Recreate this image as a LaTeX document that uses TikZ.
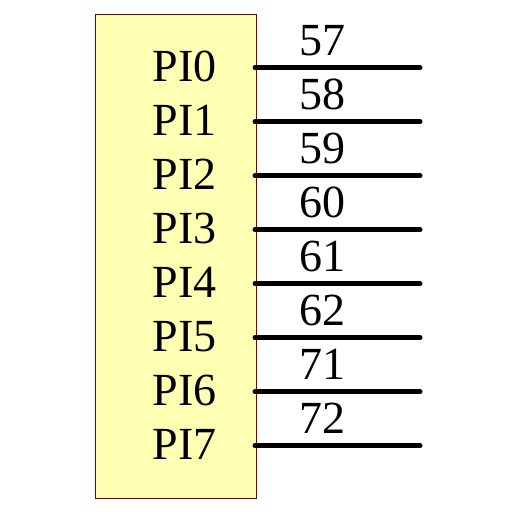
\documentclass[tikz,border=0pt]{standalone}
\usepackage{fontspec}
\setmainfont{Liberation Serif}
\definecolor{boxfill}{HTML}{FFFFB4}
\definecolor{boxedge}{HTML}{800000}
\tikzset{
  chip/.style={draw=boxedge, fill=boxfill, line width=0.8pt},
  pinlabel/.style={anchor=base west, inner sep=0pt, font=\fontsize{46}{46}\selectfont},
  pinnum/.style={anchor=base west, inner sep=0pt, font=\fontsize{46}{46}\selectfont},
  wire/.style={line width=5pt, line cap=round}
}
\begin{document}
\begin{tikzpicture}[x=1pt,y=-1pt]
\useasboundingbox (0,0) rectangle (512,512);
\node[chip, minimum width=161pt, minimum height=484pt, anchor=north west, inner sep=0pt] (box) at (94.5,13.5) {};
\foreach \i/\n in {0/57,1/58,2/59,3/60,4/61,5/62,6/71,7/72}{
  \pgfmathsetmacro{\yy}{67.7+54*\i}
  \coordinate (s\i) at (255,\yy);
  \coordinate (e\i) at (420,\yy);
  \draw[wire] (s\i) -- (e\i);
  \node[pinlabel] (l\i) at (152.5,\yy+14) {PI\i};
  \node[pinnum] (n\i) at (299.5,\yy-12) {\n};
}
\end{tikzpicture}
\end{document}
